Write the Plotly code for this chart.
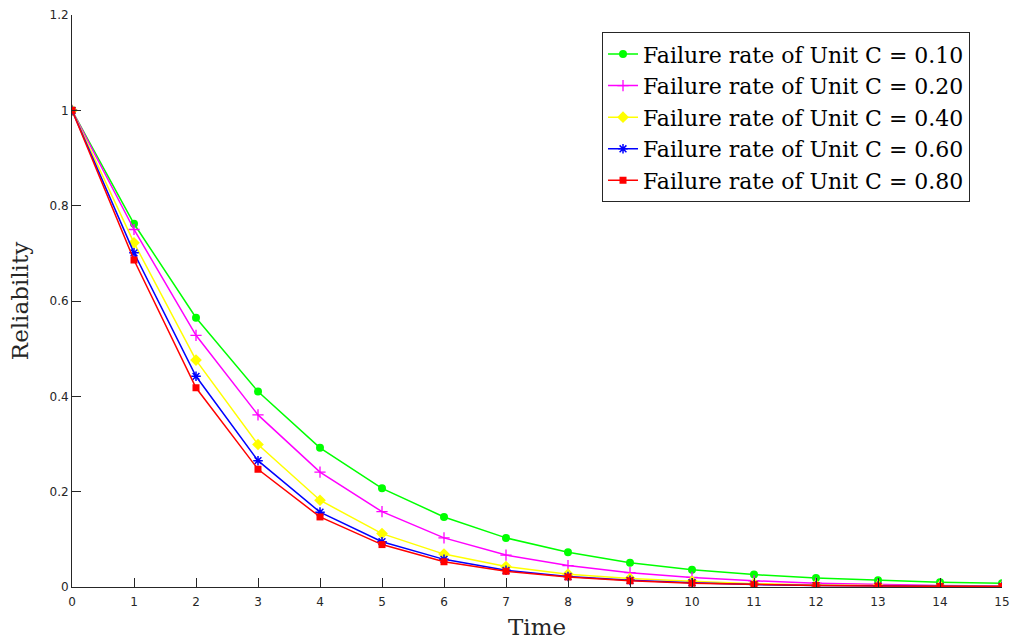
import plotly.graph_objects as go

time = list(range(0, 16))
green_010 = [1, 0.762, 0.565, 0.410, 0.292, 0.207, 0.147, 0.103, 0.073, 0.051, 0.036, 0.026, 0.019, 0.014, 0.010, 0.008]
magenta_020 = [1, 0.750, 0.528, 0.361, 0.241, 0.158, 0.103, 0.067, 0.045, 0.030, 0.020, 0.013, 0.008, 0.005, 0.003, 0.002]
yellow_040 = [1, 0.722, 0.476, 0.299, 0.182, 0.112, 0.069, 0.043, 0.027, 0.018, 0.012, 0.007, 0.004, 0.003, 0.002, 0.001]
blue_060 = [1, 0.701, 0.442, 0.265, 0.157, 0.095, 0.058, 0.035, 0.022, 0.014, 0.009, 0.005, 0.003, 0.002, 0.001, 0.001]
red_080 = [1, 0.686, 0.418, 0.247, 0.147, 0.089, 0.053, 0.033, 0.021, 0.013, 0.008, 0.005, 0.003, 0.002, 0.001, 0.001]

series_names = [
    "Failure rate of Unit C = 0.10",
    "Failure rate of Unit C = 0.20",
    "Failure rate of Unit C = 0.40",
    "Failure rate of Unit C = 0.60",
    "Failure rate of Unit C = 0.80",
]
x_ticks = list(range(0, 16))
y_ticks = [0, 0.2, 0.4, 0.6, 0.8, 1.0, 1.2]
y_ticktext = ["0", "0.2", "0.4", "0.6", "0.8", "1", "1.2"]

styles = [
    dict(color="#00FF00", symbol="circle", size=8, lw=0),
    dict(color="#FF00FF", symbol="cross-thin-open", size=8, lw=1.3),
    dict(color="#FFFF00", symbol="diamond", size=9, lw=0),
    dict(color="#0000FF", symbol="asterisk-open", size=8, lw=1.5),
    dict(color="#FF0000", symbol="square", size=7, lw=0),
]
data = [green_010, magenta_020, yellow_040, blue_060, red_080]

fig = go.Figure()
for name, ys, st in zip(series_names, data, styles):
    fig.add_trace(go.Scatter(
        x=time, y=ys, name=name, mode="lines+markers",
        line=dict(color=st["color"], width=1.5),
        marker=dict(symbol=st["symbol"], size=st["size"], color=st["color"],
                    line=dict(color=st["color"], width=st["lw"])),
    ))

axis_color = "#262626"
serif = "DejaVu Serif"
fig.update_layout(
    width=1013, height=642,
    margin=dict(l=72, r=11, t=15, b=55, autoexpand=False),
    paper_bgcolor="white", plot_bgcolor="white",
    showlegend=True,
    legend=dict(
        x=0.9656, y=0.970, xanchor="right", yanchor="top",
        font=dict(family=serif, size=22, color="black"),
        bordercolor=axis_color, borderwidth=1, bgcolor="white",
        tracegroupgap=0, itemwidth=30,
    ),
    xaxis=dict(
        range=[0, 15], tickvals=x_ticks, ticks="inside", ticklen=9,
        tickcolor=axis_color, showline=True, linecolor=axis_color, linewidth=1,
        showgrid=False, zeroline=False, automargin=False, ticklabelstandoff=4,
        tickfont=dict(family="DejaVu Sans", size=12, color=axis_color),
        title=dict(text="Time", font=dict(family=serif, size=23, color=axis_color), standoff=10),
    ),
    yaxis=dict(
        range=[0, 1.2], tickvals=y_ticks, ticktext=y_ticktext, ticks="inside", ticklen=9,
        tickcolor=axis_color, showline=True, linecolor=axis_color, linewidth=1,
        showgrid=False, zeroline=False, automargin=False,
        tickfont=dict(family="DejaVu Sans", size=12, color=axis_color),
        title=dict(text="Reliability", font=dict(family=serif, size=23, color=axis_color), standoff=14),
    ),
)

fig.write_html("out.html", config={"displayModeBar": False},
               post_script="document.body.style.margin='0';")
